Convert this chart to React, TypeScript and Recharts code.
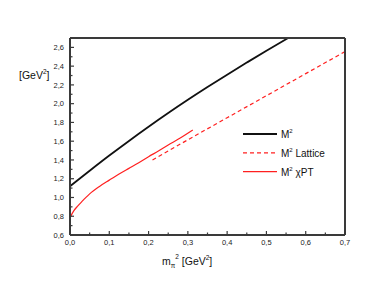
import React from 'react';
import { LineChart, Line, XAxis, YAxis } from 'recharts';

// M^2 (black solid)
const m2X = [0, 0.05, 0.1, 0.15, 0.2, 0.25, 0.3, 0.35, 0.4, 0.45, 0.5, 0.555];
const m2Y = [1.12, 1.285, 1.447, 1.603, 1.754, 1.9, 2.041, 2.177, 2.309, 2.438, 2.565, 2.7];

// M^2 Lattice (red dashed)
const latX = [0.21, 0.3, 0.4, 0.5, 0.6, 0.7];
const latY = [1.4, 1.615, 1.85, 2.085, 2.32, 2.555];

// M^2 chiPT (red solid)
const chiX = [0, 0.005, 0.01, 0.02, 0.03, 0.04, 0.05, 0.075, 0.1, 0.125, 0.15, 0.175, 0.2, 0.225, 0.25, 0.275, 0.3125];
const chiY = [0.78, 0.825, 0.86, 0.91, 0.955, 0.998, 1.038, 1.118, 1.185, 1.25, 1.31, 1.37, 1.435, 1.495, 1.56, 1.62, 1.72];

const xTicks = [0, 0.05, 0.1, 0.15, 0.2, 0.25, 0.3, 0.35, 0.4, 0.45, 0.5, 0.55, 0.6, 0.65, 0.7];
const yTicks = [0.6, 0.7, 0.8, 0.9, 1.0, 1.1, 1.2, 1.3, 1.4, 1.5, 1.6, 1.7, 1.8, 1.9, 2.0, 2.1, 2.2, 2.3, 2.4, 2.5, 2.6, 2.7];

const legendLabels = ['', ' Lattice', ' χPT'];

const toPts = (xs: number[], ys: number[]) => xs.map((x, i) => ({ x, y: ys[i] }));
const m2Data = toPts(m2X, m2Y);
const latData = toPts(latX, latY);
const chiData = toPts(chiX, chiY);

const FONT = '"Liberation Sans", Arial, sans-serif';
const FRAME = '#3a3a3a';
const RED = '#ff2020';

const fmt = (v: number) => v.toFixed(1).replace('.', ',');
const isMajorX = (v: number) => Math.round(v * 100) % 10 === 0;
const isMajorY = (v: number) => Math.round(v * 100) % 20 === 0;

const BottomTick = (props: any) => {
  const { x, y, payload } = props;
  const major = isMajorX(payload.value);
  return (
    <g>
      <line x1={x} x2={x} y1={y} y2={y - (major ? 4 : 2.5)} stroke={FRAME} strokeWidth={1.2} />
      {major && (
        <text x={x} y={y + 10} textAnchor="middle" fontSize={7.5} fill="#222" fontFamily={FONT}>
          {fmt(payload.value)}
        </text>
      )}
    </g>
  );
};

const TopTick = (props: any) => {
  const { x, y, payload } = props;
  const major = isMajorX(payload.value);
  return <line x1={x} x2={x} y1={y} y2={y + (major ? 4 : 2.5)} stroke={FRAME} strokeWidth={1.2} />;
};

const LeftTick = (props: any) => {
  const { x, y, payload } = props;
  const major = isMajorY(payload.value);
  return (
    <g>
      <line x1={x} x2={x + (major ? 4 : 2.5)} y1={y} y2={y} stroke={FRAME} strokeWidth={1.2} />
      {major && (
        <text x={x - 6} y={y + 2.7} textAnchor="end" fontSize={7.5} fill="#222" fontFamily={FONT}>
          {fmt(payload.value)}
        </text>
      )}
    </g>
  );
};

const RightTick = (props: any) => {
  const { x, y, payload } = props;
  const major = isMajorY(payload.value);
  return <line x1={x} x2={x - (major ? 4 : 2.5)} y1={y} y2={y} stroke={FRAME} strokeWidth={1.2} />;
};

const LegendBox = () => {
  const styles = [
    { color: '#111', dash: undefined, width: 1.8 },
    { color: RED, dash: '4 3', width: 1.2 },
    { color: RED, dash: undefined, width: 1.2 },
  ];
  return (
    <svg width={120} height={60} style={{ position: 'absolute', left: 238, top: 124 }}>
      {legendLabels.map((label, i) => {
        const cy = 10 + i * 18.8;
        const s = styles[i];
        return (
          <g key={i}>
            <line x1={5} x2={39} y1={cy} y2={cy} stroke={s.color} strokeWidth={s.width} strokeDasharray={s.dash} />
            <text x={43} y={cy + 4} fontSize={10} fill="#111" fontFamily={FONT}>
              M<tspan dy={-5} fontSize={6}>2</tspan>
              <tspan dy={5}>{label}</tspan>
            </text>
          </g>
        );
      })}
    </svg>
  );
};

const XTitle = () => (
  <text x={162} y={265} fontSize={10.5} fill="#111" fontFamily={FONT}>
    m<tspan dy={3} fontSize={6.5}>π</tspan>
    <tspan dy={-9} fontSize={6.5}>2</tspan>
    <tspan dy={6}> [GeV</tspan>
    <tspan dy={-5} fontSize={6.5}>2</tspan>
    <tspan dy={5}>]</tspan>
  </text>
);

const YTitle = () => (
  <text x={19} y={79} fontSize={10.5} fill="#111" fontFamily={FONT}>
    [GeV<tspan dy={-5} fontSize={6.5}>2</tspan>
    <tspan dy={5}>]</tspan>
  </text>
);

export default function App() {
  return (
    <div style={{ position: 'absolute', left: 0, top: 0, width: 382, height: 285, background: '#fff' }}>
      <LineChart width={382} height={285} margin={{ top: 0, right: 0, bottom: 0, left: 0 }}>
        <XAxis
          xAxisId="bottom"
          dataKey="x"
          type="number"
          domain={[0, 0.7]}
          ticks={xTicks}
          interval={0}
          height={50}
          tickSize={0}
          tickMargin={0}
          tickLine={false}
          axisLine={{ stroke: FRAME, strokeWidth: 2 }}
          tick={<BottomTick />}
          label={{ content: () => <XTitle /> }}
        />
        <XAxis
          xAxisId="top"
          orientation="top"
          dataKey="x"
          type="number"
          domain={[0, 0.7]}
          ticks={xTicks}
          interval={0}
          height={38}
          tickSize={0}
          tickMargin={0}
          tickLine={false}
          axisLine={{ stroke: FRAME, strokeWidth: 2 }}
          tick={<TopTick />}
        />
        <YAxis
          yAxisId="left"
          type="number"
          domain={[0.6, 2.7]}
          ticks={yTicks}
          interval={0}
          width={70}
          tickSize={0}
          tickMargin={0}
          tickLine={false}
          axisLine={{ stroke: FRAME, strokeWidth: 2 }}
          tick={<LeftTick />}
          label={{ content: () => <YTitle /> }}
        />
        <YAxis
          yAxisId="right"
          orientation="right"
          type="number"
          domain={[0.6, 2.7]}
          ticks={yTicks}
          interval={0}
          width={37}
          tickSize={0}
          tickMargin={0}
          tickLine={false}
          axisLine={{ stroke: FRAME, strokeWidth: 2 }}
          tick={<RightTick />}
        />
        <Line
          xAxisId="bottom"
          yAxisId="left"
          data={m2Data}
          dataKey="y"
          type="monotone"
          stroke="#111"
          strokeWidth={1.8}
          dot={false}
          isAnimationActive={false}
        />
        <Line
          xAxisId="bottom"
          yAxisId="left"
          data={latData}
          dataKey="y"
          type="linear"
          stroke={RED}
          strokeWidth={1.2}
          strokeDasharray="4 3"
          dot={false}
          isAnimationActive={false}
        />
        <Line
          xAxisId="bottom"
          yAxisId="left"
          data={chiData}
          dataKey="y"
          type="monotone"
          stroke={RED}
          strokeWidth={1.2}
          dot={false}
          isAnimationActive={false}
        />
      </LineChart>
      <LegendBox />
    </div>
  );
}
